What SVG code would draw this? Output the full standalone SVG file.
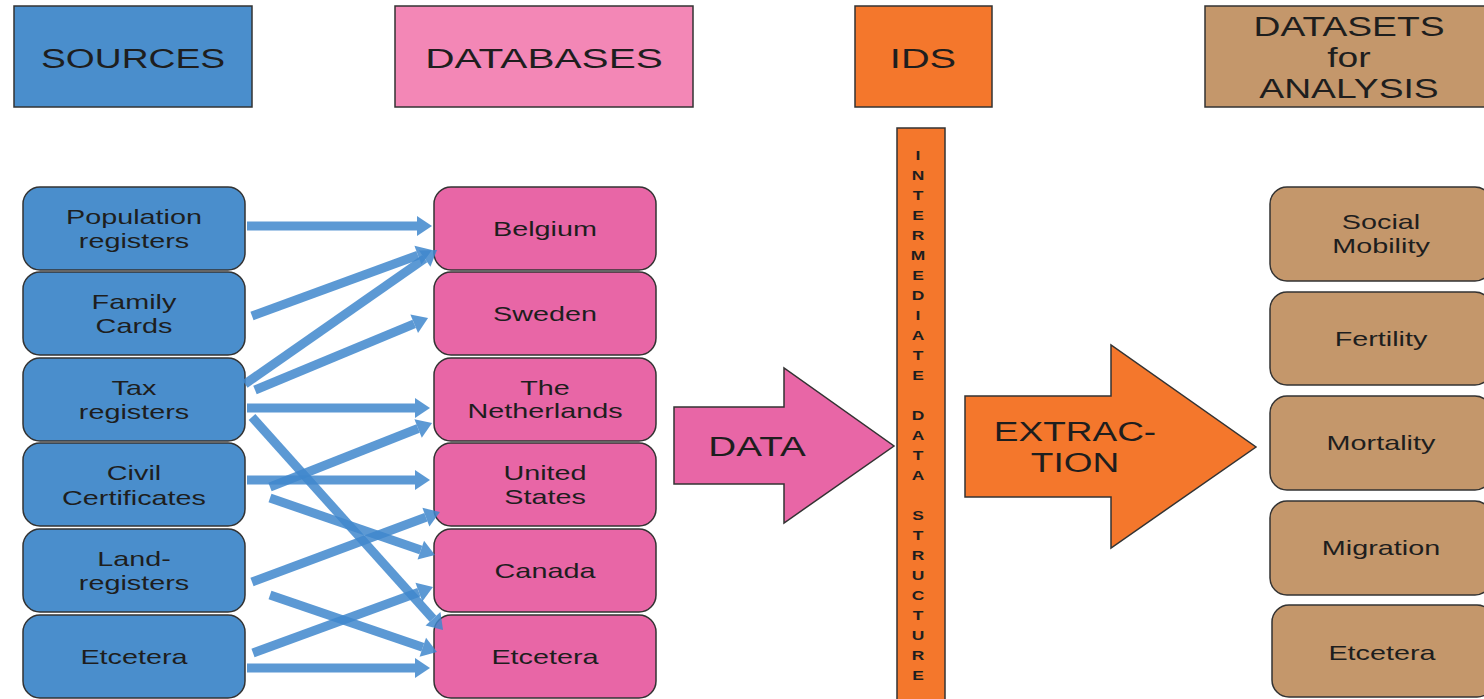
<svg xmlns="http://www.w3.org/2000/svg" width="1484" height="699" viewBox="0 0 1484 699">
<style>
text{font-family:"Liberation Sans",Arial,sans-serif;fill:#1e1e1e;text-anchor:middle}
.hdr{font-size:28px}
.big{font-size:27px}
.nt{font-size:20px}
.vt{font-size:12px;font-weight:bold}
.box{stroke:#333;stroke-width:1.5}
.blue{fill:#4a8ecc}
.pink{fill:#e866a6}
.pinkL{fill:#f387b6}
.orange{fill:#f4772c}
.brown{fill:#c4976b}
.conn{stroke:#3f87cc;stroke-opacity:0.85;stroke-width:9;fill:none;marker-end:url(#ah)}
</style>
<defs>
<marker id="ah" markerUnits="userSpaceOnUse" markerWidth="16" markerHeight="20" refX="0" refY="10" orient="auto" overflow="visible">
<path d="M0,0 L15,10 L0,20 z" fill="#3f87cc" fill-opacity="0.85"/>
</marker>
</defs>
<rect width="1484" height="699" fill="#fff"/>

<g id="hdr-sources"><rect class="box blue" x="14" y="6" width="238" height="101"/><text class="hdr" transform="translate(133,68) scale(1.33,1)">SOURCES</text></g>
<g id="hdr-databases"><rect class="box pinkL" x="395" y="6" width="298" height="101"/><text class="hdr" transform="translate(544,68) scale(1.45,1)">DATABASES</text></g>
<g id="hdr-ids"><rect class="box orange" x="855" y="6" width="137" height="101"/><text class="hdr" transform="translate(923,68) scale(1.42,1)">IDS</text></g>
<g id="hdr-datasets"><rect class="box brown" x="1205" y="6" width="290" height="101"/>
<text class="big" transform="translate(1349,36) scale(1.38,1)">DATASETS</text>
<text class="big" transform="translate(1349,67) scale(1.38,1)">for</text>
<text class="big" transform="translate(1349,98) scale(1.38,1)">ANALYSIS</text></g>

<g id="src-population"><rect class="box blue" x="23" y="187" width="222" height="83" rx="17"/><text class="nt" transform="translate(134,224) scale(1.44,1)"><tspan x="0">Population</tspan><tspan x="0" dy="24">registers</tspan></text></g>
<g id="src-family"><rect class="box blue" x="23" y="272" width="222" height="83" rx="17"/><text class="nt" transform="translate(134,309) scale(1.44,1)"><tspan x="0">Family</tspan><tspan x="0" dy="24">Cards</tspan></text></g>
<g id="src-tax"><rect class="box blue" x="23" y="358" width="222" height="83" rx="17"/><text class="nt" transform="translate(134,395) scale(1.44,1)"><tspan x="0">Tax</tspan><tspan x="0" dy="24">registers</tspan></text></g>
<g id="src-civil"><rect class="box blue" x="23" y="443" width="222" height="83" rx="17"/><text class="nt" transform="translate(134,480) scale(1.44,1)"><tspan x="0">Civil</tspan><tspan x="0" dy="25">Certificates</tspan></text></g>
<g id="src-land"><rect class="box blue" x="23" y="529" width="222" height="83" rx="17"/><text class="nt" transform="translate(134,566) scale(1.44,1)"><tspan x="0">Land-</tspan><tspan x="0" dy="24">registers</tspan></text></g>
<g id="src-etcetera"><rect class="box blue" x="23" y="615" width="222" height="83" rx="17"/><text class="nt" transform="translate(134,664) scale(1.44,1)">Etcetera</text></g>

<g id="db-belgium"><rect class="box pink" x="434" y="187" width="222" height="83" rx="17"/><text class="nt" transform="translate(545,236) scale(1.44,1)">Belgium</text></g>
<g id="db-sweden"><rect class="box pink" x="434" y="272" width="222" height="83" rx="17"/><text class="nt" transform="translate(545,321) scale(1.44,1)">Sweden</text></g>
<g id="db-netherlands"><rect class="box pink" x="434" y="358" width="222" height="83" rx="17"/><text class="nt" transform="translate(545,395) scale(1.44,1)"><tspan x="0">The</tspan><tspan x="0" dy="23">Netherlands</tspan></text></g>
<g id="db-us"><rect class="box pink" x="434" y="443" width="222" height="83" rx="17"/><text class="nt" transform="translate(545,480) scale(1.44,1)"><tspan x="0">United</tspan><tspan x="0" dy="24">States</tspan></text></g>
<g id="db-canada"><rect class="box pink" x="434" y="529" width="222" height="83" rx="17"/><text class="nt" transform="translate(545,578) scale(1.44,1)">Canada</text></g>
<g id="db-etcetera"><rect class="box pink" x="434" y="615" width="222" height="83" rx="17"/><text class="nt" transform="translate(545,664) scale(1.44,1)">Etcetera</text></g>

<g id="data-arrow"><polygon class="box pink" points="674,407 784,407 784,368 894,446 784,523 784,484 674,484"/><text class="hdr" transform="translate(757,456) scale(1.38,1)">DATA</text></g>

<g id="ids-bar"><rect class="box orange" x="897" y="128" width="48" height="580"/>
<text class="vt" transform="translate(918,160) scale(1.45,1)">I</text>
<text class="vt" transform="translate(918,180) scale(1.45,1)">N</text>
<text class="vt" transform="translate(918,200) scale(1.45,1)">T</text>
<text class="vt" transform="translate(918,220) scale(1.45,1)">E</text>
<text class="vt" transform="translate(918,240) scale(1.45,1)">R</text>
<text class="vt" transform="translate(918,260) scale(1.45,1)">M</text>
<text class="vt" transform="translate(918,280) scale(1.45,1)">E</text>
<text class="vt" transform="translate(918,300) scale(1.45,1)">D</text>
<text class="vt" transform="translate(918,320) scale(1.45,1)">I</text>
<text class="vt" transform="translate(918,340) scale(1.45,1)">A</text>
<text class="vt" transform="translate(918,360) scale(1.45,1)">T</text>
<text class="vt" transform="translate(918,380) scale(1.45,1)">E</text>
<text class="vt" transform="translate(918,420) scale(1.45,1)">D</text>
<text class="vt" transform="translate(918,440) scale(1.45,1)">A</text>
<text class="vt" transform="translate(918,460) scale(1.45,1)">T</text>
<text class="vt" transform="translate(918,480) scale(1.45,1)">A</text>
<text class="vt" transform="translate(918,520) scale(1.45,1)">S</text>
<text class="vt" transform="translate(918,540) scale(1.45,1)">T</text>
<text class="vt" transform="translate(918,560) scale(1.45,1)">R</text>
<text class="vt" transform="translate(918,580) scale(1.45,1)">U</text>
<text class="vt" transform="translate(918,600) scale(1.45,1)">C</text>
<text class="vt" transform="translate(918,620) scale(1.45,1)">T</text>
<text class="vt" transform="translate(918,640) scale(1.45,1)">U</text>
<text class="vt" transform="translate(918,660) scale(1.45,1)">R</text>
<text class="vt" transform="translate(918,680) scale(1.45,1)">E</text>
</g>

<g id="extraction-arrow"><polygon class="box orange" points="965,396 1111,396 1111,345 1256,447 1111,548 1111,497 965,497"/>
<text class="big" transform="translate(1075,441) scale(1.37,1)">EXTRAC-</text>
<text class="big" transform="translate(1075,472) scale(1.37,1)">TION</text></g>

<g id="ds-social"><rect class="box brown" x="1270" y="187" width="222" height="94" rx="17"/><text class="nt" transform="translate(1381,229) scale(1.44,1)"><tspan x="0">Social</tspan><tspan x="0" dy="24">Mobility</tspan></text></g>
<g id="ds-fertility"><rect class="box brown" x="1270" y="292" width="222" height="93" rx="17"/><text class="nt" transform="translate(1381,346) scale(1.44,1)">Fertility</text></g>
<g id="ds-mortality"><rect class="box brown" x="1270" y="396" width="222" height="94" rx="17"/><text class="nt" transform="translate(1381,450) scale(1.44,1)">Mortality</text></g>
<g id="ds-migration"><rect class="box brown" x="1270" y="501" width="222" height="94" rx="17"/><text class="nt" transform="translate(1381,555) scale(1.44,1)">Migration</text></g>
<g id="ds-etcetera"><rect class="box brown" x="1272" y="605" width="222" height="92" rx="17"/><text class="nt" transform="translate(1382,660) scale(1.44,1)">Etcetera</text></g>

<g id="connectors">
<path class="conn" d="M247,226 L417,226"/>
<path class="conn" d="M252,316 L417.9,255.2"/>
<path class="conn" d="M245,384 L424.7,258.6"/>
<path class="conn" d="M255,390 L414.2,323.8"/>
<path class="conn" d="M247,408 L415,408"/>
<path class="conn" d="M252,417 L433,618.8"/>
<path class="conn" d="M270,487 L418.1,428.5"/>
<path class="conn" d="M247,480 L415,480"/>
<path class="conn" d="M270,498 L420.8,550.1"/>
<path class="conn" d="M252,582 L425.9,517.2"/>
<path class="conn" d="M270,595 L422.8,647.2"/>
<path class="conn" d="M253,653 L418.9,592.2"/>
<path class="conn" d="M247,668 L415,668"/>
</g>
</svg>
